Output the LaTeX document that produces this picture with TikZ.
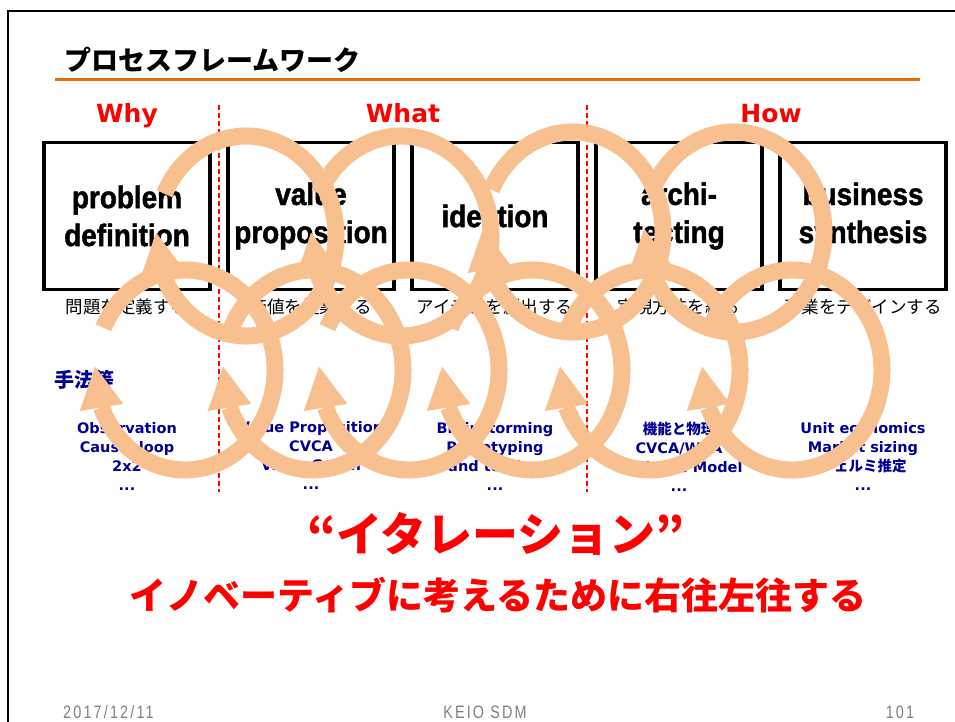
\documentclass[tikz,border=0pt]{standalone}
\usepackage{fontspec}
\setmainfont{Liberation Sans}
\newfontfamily\jpfont{Noto Sans CJK JP}
\newfontfamily\vfont{DejaVu Sans}
\newfontfamily\boxfont[FakeStretch=0.9,FakeBold=1.5,UprightFont={* Bold}]{Liberation Sans}
\newfontfamily\footfont[FakeStretch=0.8,LetterSpace=12]{Liberation Sans}
\usetikzlibrary{positioning}
\usetikzlibrary{calc}
\definecolor{peach}{RGB}{249,192,143}
\definecolor{titleline}{RGB}{228,108,10}
\definecolor{methodblue}{RGB}{0,0,150}
\definecolor{footgray}{RGB}{128,128,128}

\begin{document}
\begin{tikzpicture}[
x=1pt, y=-1pt,
stagebox/.style={rectangle, draw=black, line width=3.5pt, minimum width=166pt,
minimum height=147pt, inner sep=0pt, align=center, font=\boxfont\fontsize{31}{38}\selectfont},
phasenode/.style={text=red, inner sep=0pt, font=\vfont\fontsize{25}{30}\selectfont\bfseries},
jpnode/.style={inner sep=0pt, font=\jpfont\fontsize{17.5}{20}\selectfont},
methodnode/.style={text=methodblue, align=center, inner sep=0pt,
font=\vfont\fontsize{14.5}{19}\selectfont\bfseries},
phaseline/.style={red, line width=1.2pt, dash pattern=on 5pt off 3pt},
loopline/.style={draw=peach, line width=17pt},
loophead/.style={fill=peach},
footnode/.style={text=footgray, inner sep=0pt, font=\footfont\fontsize{18}{20}\selectfont}
]
\useasboundingbox (0,0) rectangle (955,722);

%Frame
\draw[line width=2.5pt] (8,722) -- (8,11) -- (955,11);
\node[anchor=west, inner sep=0pt, font=\jpfont\fontsize{27}{30}\selectfont\bfseries] (title) at (64,60) {プロセスフレームワーク};
\draw[titleline, line width=3pt] (55,80) -- (920,80);

%Nodes
\node[stagebox] (problem) at (127,216) {problem\\definition};
\node[stagebox, right=14.5pt of problem] (value) {value\\proposition};
\node[stagebox, right=14.5pt of value] (ideation) {ideation};
\node[stagebox, right=14.5pt of ideation] (archi) {archi-\\tecting};
\node[stagebox, right=14.5pt of archi] (synth) {business\\synthesis};

\node[jpnode, below=7pt of problem] (problemjp) {問題を定義する};
\node[jpnode, below=7pt of value] (valuejp) {価値を提案する};
\node[jpnode, below=7pt of ideation] (ideationjp) {アイデアを創出する};
\node[jpnode, below=7pt of archi] (archijp) {実現方法を練る};
\node[jpnode, below=7pt of synth] (synthjp) {事業をデザインする};

\node[anchor=west, inner sep=0pt, text=methodblue, font=\jpfont\fontsize{20}{24}\selectfont\bfseries] (toolslabel) at (54,380) {手法等};
\node[methodnode, below=107pt of problemjp] (problemtools) {Observation\\Causal loop\\2x2\\...};
\node[methodnode, below=107pt of valuejp] (valuetools) {Value Proposition\\CVCA\\Value Graph\\...};
\node[methodnode, below=107pt of ideationjp] (ideationtools) {Brainstorming\\Prototyping\\and testing\\...};
\node[methodnode, below=107pt of archijp] (architools) {{\jpfont 機能と物理}\\CVCA/WCA\\Business Model\\...};
\node[methodnode, below=107pt of synthjp] (synthtools) {Unit economics\\Market sizing\\{\jpfont フェルミ推定}\\...};

%Phases
\coordinate (whatpos) at ($(value.north)!0.5!(ideation.north)$);
\coordinate (howpos) at ($(archi.north)!0.5!(synth.north)$);
\node[phasenode, anchor=base] (why) at (problem.north |- 0,123) {Why};
\node[phasenode, anchor=base] (what) at (whatpos |- 0,123) {What};
\node[phasenode, anchor=base] (how) at (howpos |- 0,123) {How};

\coordinate (cut1) at ($(problem.east)!0.5!(value.west)$);
\coordinate (cut2) at ($(ideation.east)!0.5!(archi.west)$);
\draw[phaseline] (cut1 |- 0,105) -- (cut1 |- 0,492);
\draw[phaseline] (cut2 |- 0,105) -- (cut2 |- 0,492);

%Message
\node[text=red, font=\jpfont\fontsize{46}{50}\selectfont\bfseries] (iter) at (496,534) {“イタレーション”};
\node[text=red, font=\jpfont\fontsize{37}{40}\selectfont\bfseries] (roam) at (498,595) {イノベーティブに考えるために右往左往する};

%Footer
\node[footnode, anchor=west] (date) at (63,712) {2017/12/11};
\node[footnode] (org) at (485,712) {KEIO SDM};
\node[footnode] (page) at (900,712) {101};

%Loop arrows
\foreach \cx/\cy in {246/236, 401/236, 573/232, 734/232, 185/370, 313/370, 409/370, 532/370, 650/370, 792/370}{
  \draw[loopline] ({\cx+90*cos(205)},{\cy+100*sin(205)}) arc[start angle=205, end angle=518, x radius=90, y radius=100];
  \coordinate (base) at ({\cx+90*cos(518)},{\cy+100*sin(518)});
  \coordinate (tip) at ({\cx+90*cos(542)},{\cy+100*sin(542)});
  \fill[loophead] (tip) -- ($(base)!22pt!90:(tip)$) -- ($(base)!22pt!-90:(tip)$) -- cycle;
}

\end{tikzpicture}
\end{document}
